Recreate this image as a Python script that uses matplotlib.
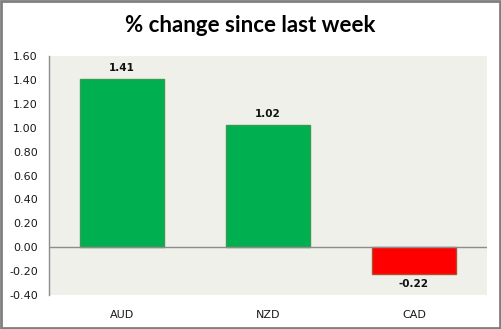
import matplotlib
matplotlib.use("Agg")
import matplotlib.pyplot as plt
from matplotlib.patches import Rectangle

categories = ["AUD", "NZD", "CAD"]
values = [1.41, 1.02, -0.22]
yticks = [-0.40, -0.20, 0.00, 0.20, 0.40, 0.60, 0.80, 1.00, 1.20, 1.40, 1.60]

fig = plt.figure(figsize=(5.02, 3.29), dpi=100)
fig.patch.set_facecolor("white")
ax = fig.add_axes([0.0976, 0.1033, 0.8725, 0.7265])
ax.set_facecolor("#EFF0EA")

colors = ["#00B050" if v >= 0 else "#FF0000" for v in values]
edges = ["#3A9A50" if v >= 0 else "#B0502A" for v in values]
x = list(range(len(categories)))
ax.bar(x, values, width=0.57, color=colors, edgecolor=edges, linewidth=1.0, zorder=3)

for xi, v in zip(x, values):
    off = 0.05 if v >= 0 else -0.05
    ax.text(xi, v + off, f"{v:.2f}", ha="center", va="bottom" if v >= 0 else "top",
            fontsize=7.5, fontweight="bold", color="#111111", family="DejaVu Sans")

ax.set_xlim(-0.5, len(categories) - 0.5)
ax.set_ylim(-0.40, 1.60)
ax.set_yticks(yticks)
ax.set_yticklabels([f"{t:.2f}" for t in yticks], fontsize=8, family="DejaVu Sans",
                   color="#1A1A1A")
ax.axhline(0, color="#8C8C8C", linewidth=1.0, zorder=4)

ax.set_xticks(x)
ax.set_xticklabels(categories, fontsize=8, family="DejaVu Sans", color="#1A1A1A")
ax.tick_params(axis="x", length=0, pad=11)
ax.tick_params(axis="y", length=0, pad=8)

for side in ["top", "right", "bottom"]:
    ax.spines[side].set_visible(False)
ax.spines["left"].set_color("#8C8C8C")
ax.spines["left"].set_linewidth(1.0)

fig.text(0.498, 0.922, "% change since last week", ha="center", va="center",
         fontsize=16, fontweight="bold", family="Lato", color="black")

fig.add_artist(Rectangle((0.002, 0.003), 0.995, 0.994, transform=fig.transFigure,
                         fill=False, edgecolor="#7F7F7F", linewidth=2.0))

fig.savefig("out.png", dpi=100)
